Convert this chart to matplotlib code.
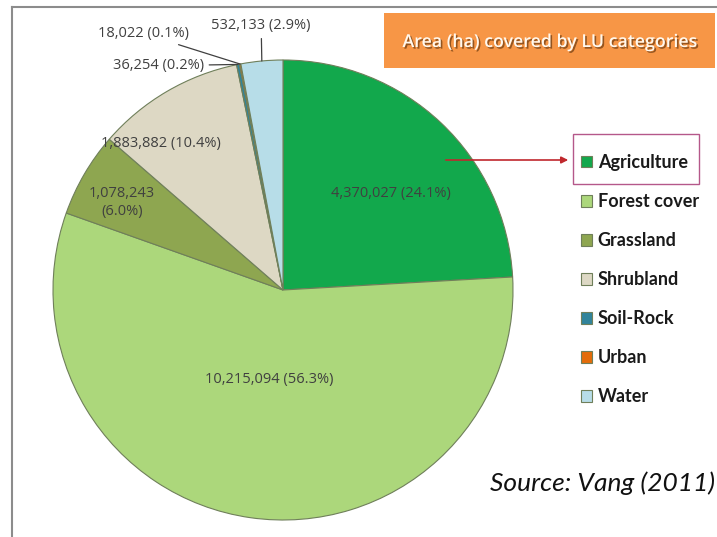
import numpy as np
import matplotlib
matplotlib.use('Agg')
import matplotlib.pyplot as plt
import matplotlib.patheffects as pe
from matplotlib.patches import Rectangle, FancyArrowPatch

# data
categories = ['Agriculture', 'Forest cover', 'Grassland', 'Shrubland', 'Soil-Rock', 'Urban', 'Water']
areas = [4370027, 10215094, 1078243, 1883882, 36254, 18022, 532133]
percents = ['24.1%', '56.3%', '6.0%', '10.4%', '0.2%', '0.1%', '2.9%']
colors = ['#12a84c', '#acd77b', '#8ea650', '#ddd8c4', '#31849b', '#e46c0a', '#b7dde8']

W, H = 717, 537
fig = plt.figure(figsize=(W / 100, H / 100), dpi=100)


def fx(x):
    return x / W


def fy(y):
    return 1 - y / H


# pie: center (283, 290), radius 230 px
cx, cy, r = 283, 290, 230
ax = fig.add_axes([fx(cx - r), fy(cy + r), 2 * r / W, 2 * r / H])
wedges, _ = ax.pie(areas, colors=colors, startangle=90, counterclock=False,
                   wedgeprops=dict(edgecolor='#6f7f5a', linewidth=0.8))
ax.set_xlim(-1, 1)
ax.set_ylim(-1, 1)
ax.set_aspect('equal')
ax.axis('off')

# label layout (pie radius units), and which ones get leader lines
label_pos = [(0.47, 0.42), (-0.06, -0.39), (-0.70, 0.38), (-0.53, 0.635),
             (-0.345, 0.975), (-0.41, 1.115), (-0.095, 1.15)]
label_ha = ['center', 'center', 'center', 'center', 'right', 'right', 'center']
leader = [False, False, False, False, True, True, True]

lbl_font = dict(fontsize=10.5, color='#404040', family='Open Sans')
for i, w in enumerate(wedges):
    txt = f'{areas[i]:,} ({percents[i]})'
    if categories[i] == 'Grassland':
        txt = f'{areas[i]:,}\n({percents[i]})'
    tx, ty = label_pos[i]
    if leader[i]:
        mid = np.deg2rad((w.theta1 + w.theta2) / 2)
        px, py = np.cos(mid), np.sin(mid)
        ax.annotate(txt, xy=(px, py), xytext=(tx, ty), ha=label_ha[i], va='center',
                    arrowprops=dict(arrowstyle='-', color='#404040', lw=0.9,
                                    shrinkA=2, shrinkB=0),
                    annotation_clip=False, **lbl_font)
    else:
        ax.text(tx, ty, txt, ha=label_ha[i], va='center', linespacing=1.3, **lbl_font)

# frame lines
fig.add_artist(plt.Line2D([fx(12), fx(12)], [0, fy(7)], color='#8c8c8c', lw=1.5))
fig.add_artist(plt.Line2D([fx(12), 1], [fy(7), fy(7)], color='#8c8c8c', lw=1.5))

# title box
fig.add_artist(Rectangle((fx(384), fy(68)), fx(715) - fx(384), fy(13) - fy(68),
                         transform=fig.transFigure, facecolor='#f79646', edgecolor='none'))
fig.text(fx(550), fy(42), 'Area (ha) covered by LU categories', ha='center', va='center',
         fontsize=12.8, color='#fff8ee', family='Open Sans', fontweight='semibold',
         path_effects=[pe.withSimplePatchShadow(offset=(1.2, -1.2), shadow_rgbFace='#6b3a10', alpha=0.7)])

# legend
leg = ax.legend(wedges, categories, loc='upper left', bbox_to_anchor=(fx(581), fy(154)),
                bbox_transform=fig.transFigure, frameon=False,
                prop=dict(family='Lato', weight='bold', size=13),
                handlelength=0.62, handleheight=0.62, handletextpad=0.3,
                labelspacing=1.22, borderpad=0, borderaxespad=0)
for t in leg.get_texts():
    t.set_color('#1a1a1a')

# highlight box + arrow
fig.add_artist(Rectangle((fx(573), fy(184)), fx(699) - fx(573), fy(134) - fy(184),
                         transform=fig.transFigure, facecolor='none',
                         edgecolor='#b5588a', lw=1.0))
fig.add_artist(FancyArrowPatch((fx(443), fy(160)), (fx(571), fy(160)),
                               transform=fig.transFigure, arrowstyle='-|>',
                               mutation_scale=10, color='#c0282d', lw=1.2))

fig.text(fx(715), fy(483), 'Source: Vang (2011)', ha='right', va='center',
         fontsize=19, style='italic', family='Lato', color='#111111')

fig.savefig('out.png', dpi=100)
